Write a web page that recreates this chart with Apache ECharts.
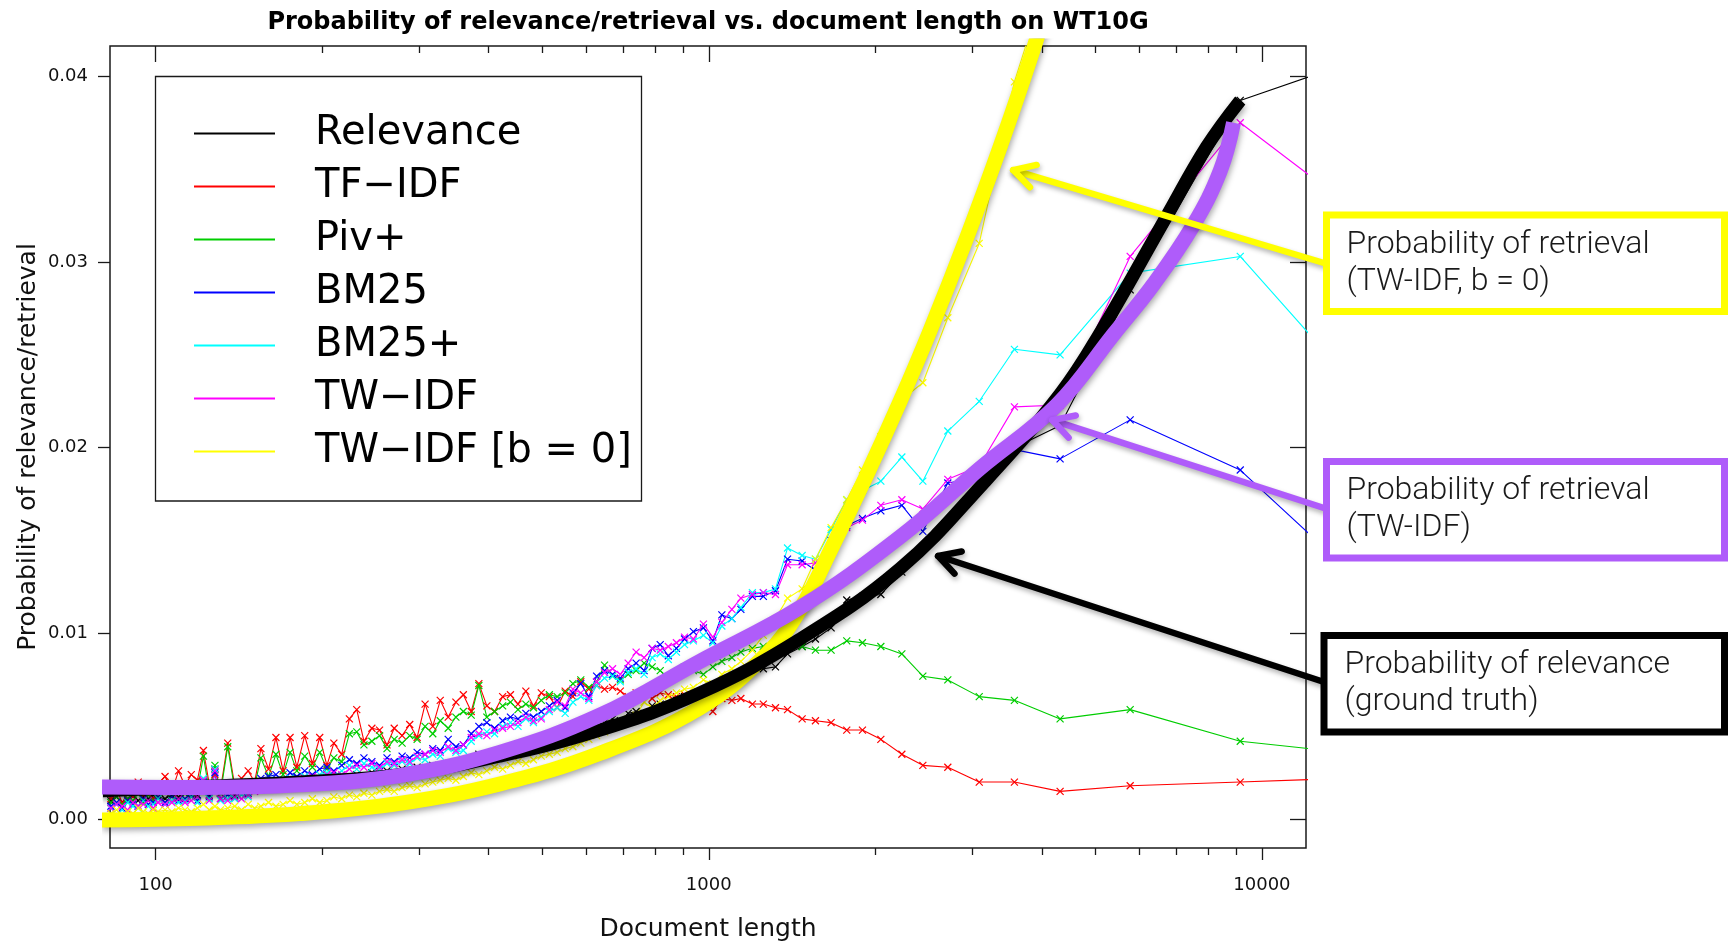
<!DOCTYPE html>
<html>
<head>
<meta charset="utf-8">
<title>Probability of relevance/retrieval vs. document length on WT10G</title>
<script src="https://cdn.jsdelivr.net/npm/echarts@6/dist/echarts.min.js"></script>
<style>
  html, body { margin: 0; padding: 0; background: #fff; }
  #chart { width: 1731px; height: 943px; }
</style>
</head>
<body>
<div id="chart"></div>
<script>
// Document-length bins shared by every retrieval model
const docLength = [
  83, 85, 87, 89, 91, 93, 95, 97, 99, 101,
  104, 107, 110, 113, 116, 119, 122, 125, 128, 131,
  135, 139, 143, 147, 151, 155, 160, 165, 170, 175,
  180, 186, 192, 198, 204, 210, 217, 224, 231, 238,
  246, 254, 262, 270, 279, 288, 297, 307, 317, 327,
  338, 349, 360, 372, 384, 397, 410, 424, 438, 452,
  467, 482, 498, 515, 532, 550, 568, 587, 607, 627,
  648, 670, 692, 715, 739, 764, 790, 817, 845, 874,
  904, 938, 978, 1017, 1056, 1101, 1143, 1199, 1255, 1320,
  1388, 1475, 1559, 1664, 1776, 1896, 2047, 2234, 2438, 2705,
  3083, 3569, 4317, 5779, 9138, 14000
];

// Probability of relevance (ground truth)
const relevance = [
  0.0010, 0.0012, 0.0009, 0.0011, 0.0013, 0.0010, 0.0012, 0.0011, 0.0013, 0.0012,
  0.0011, 0.0013, 0.0012, 0.0014, 0.0012, 0.0013, 0.0018, 0.0013, 0.0027, 0.0014,
  0.0015, 0.0013, 0.0016, 0.0015, 0.0017, 0.0016, 0.0018, 0.0017, 0.0019, 0.0018,
  0.0020, 0.0019, 0.0021, 0.0020, 0.0022, 0.0021, 0.0023, 0.0022, 0.0024, 0.0023,
  0.0025, 0.0024, 0.0026, 0.0025, 0.0027, 0.0026, 0.0028, 0.0027, 0.0029, 0.0028,
  0.0030, 0.0029, 0.0031, 0.0032, 0.0035, 0.0034, 0.0036, 0.0035, 0.0037, 0.0039,
  0.0038, 0.0040, 0.0042, 0.0041, 0.0044, 0.0046, 0.0045, 0.0048, 0.0050, 0.0049,
  0.0052, 0.0054, 0.0053, 0.0057, 0.0058, 0.0057, 0.0061, 0.0062, 0.0061, 0.0064,
  0.0066, 0.0066, 0.0069, 0.0071, 0.0073, 0.0075, 0.0078, 0.0080, 0.0081, 0.0082,
  0.0089, 0.0093, 0.0097, 0.0103, 0.0118, 0.0120, 0.0121, 0.0133, 0.0146, 0.0160,
  0.0182, 0.0200, 0.0212, 0.0285, 0.0387, 0.0406
];

// Probability of retrieval per model
const tfIdf = [
  0.0011, 0.0016, 0.0009, 0.0014, 0.0012, 0.0020, 0.0013, 0.0017, 0.0011, 0.0019,
  0.0023, 0.0015, 0.0026, 0.0018, 0.0024, 0.0021, 0.0037, 0.0019, 0.0024, 0.0016,
  0.0041, 0.0018, 0.0022, 0.0026, 0.0020, 0.0038, 0.0027, 0.0044, 0.0026, 0.0044,
  0.0028, 0.0045, 0.0030, 0.0044, 0.0029, 0.0041, 0.0035, 0.0054, 0.0059, 0.0042,
  0.0049, 0.0048, 0.0040, 0.0049, 0.0045, 0.0051, 0.0044, 0.0062, 0.0050, 0.0064,
  0.0055, 0.0063, 0.0067, 0.0058, 0.0073, 0.0061, 0.0058, 0.0066, 0.0067, 0.0062,
  0.0069, 0.0061, 0.0068, 0.0066, 0.0060, 0.0069, 0.0066, 0.0074, 0.0070, 0.0072,
  0.0070, 0.0071, 0.0069, 0.0066, 0.0068, 0.0067, 0.0065, 0.0068, 0.0067, 0.0066,
  0.0067, 0.0065, 0.0062, 0.0058, 0.0065, 0.0064, 0.0065, 0.0062, 0.0062, 0.0060,
  0.0059, 0.0054, 0.0053, 0.0052, 0.0048, 0.0048, 0.0043, 0.0035, 0.0029, 0.0028,
  0.0020, 0.0020, 0.0015, 0.0018, 0.0020, 0.0022
];
const pivPlus = [
  0.0009, 0.0012, 0.0008, 0.0011, 0.0010, 0.0014, 0.0009, 0.0013, 0.0010, 0.0015,
  0.0016, 0.0012, 0.0018, 0.0014, 0.0017, 0.0016, 0.0034, 0.0015, 0.0029, 0.0014,
  0.0039, 0.0016, 0.0018, 0.0020, 0.0018, 0.0033, 0.0023, 0.0035, 0.0024, 0.0036,
  0.0026, 0.0034, 0.0028, 0.0036, 0.0027, 0.0033, 0.0031, 0.0046, 0.0047, 0.0040,
  0.0042, 0.0045, 0.0038, 0.0043, 0.0041, 0.0045, 0.0043, 0.0050, 0.0046, 0.0053,
  0.0049, 0.0055, 0.0058, 0.0056, 0.0072, 0.0055, 0.0058, 0.0061, 0.0063, 0.0059,
  0.0062, 0.0060, 0.0064, 0.0067, 0.0066, 0.0068, 0.0073, 0.0075, 0.0071, 0.0074,
  0.0083, 0.0077, 0.0075, 0.0078, 0.0080, 0.0084, 0.0082, 0.0080, 0.0076, 0.0079,
  0.0082, 0.0080, 0.0078, 0.0082, 0.0085, 0.0087, 0.0090, 0.0092, 0.0093, 0.0094,
  0.0096, 0.0093, 0.0091, 0.0091, 0.0096, 0.0095, 0.0093, 0.0089, 0.0077, 0.0075,
  0.0066, 0.0064, 0.0054, 0.0059, 0.0042, 0.0036
];
const bm25 = [
  0.0007, 0.0009, 0.0006, 0.0010, 0.0008, 0.0007, 0.0011, 0.0008, 0.0009, 0.0012,
  0.0009, 0.0012, 0.0010, 0.0011, 0.0013, 0.0010, 0.0020, 0.0012, 0.0025, 0.0011,
  0.0013, 0.0012, 0.0015, 0.0014, 0.0018, 0.0022, 0.0023, 0.0024, 0.0021, 0.0025,
  0.0023, 0.0026, 0.0024, 0.0027, 0.0028, 0.0026, 0.0029, 0.0032, 0.0030, 0.0033,
  0.0031, 0.0029, 0.0033, 0.0031, 0.0034, 0.0033, 0.0036, 0.0035, 0.0038, 0.0037,
  0.0043, 0.0039, 0.0040, 0.0046, 0.0050, 0.0052, 0.0049, 0.0053, 0.0055, 0.0054,
  0.0057, 0.0055, 0.0058, 0.0061, 0.0064, 0.0060, 0.0068, 0.0073, 0.0066, 0.0077,
  0.0080, 0.0078, 0.0076, 0.0081, 0.0084, 0.0080, 0.0092, 0.0094, 0.0088, 0.0092,
  0.0097, 0.0101, 0.0103, 0.0096, 0.0110, 0.0108, 0.0113, 0.0120, 0.0120, 0.0123,
  0.0140, 0.0139, 0.0134, 0.0150, 0.0158, 0.0162, 0.0166, 0.0169, 0.0155, 0.0181,
  0.0184, 0.0199, 0.0194, 0.0215, 0.0188, 0.0137
];
const bm25Plus = [
  0.0006, 0.0008, 0.0005, 0.0009, 0.0007, 0.0006, 0.0010, 0.0007, 0.0008, 0.0011,
  0.0008, 0.0010, 0.0009, 0.0010, 0.0012, 0.0009, 0.0022, 0.0011, 0.0027, 0.0010,
  0.0011, 0.0011, 0.0013, 0.0012, 0.0016, 0.0019, 0.0020, 0.0021, 0.0019, 0.0022,
  0.0021, 0.0023, 0.0022, 0.0024, 0.0025, 0.0023, 0.0026, 0.0029, 0.0027, 0.0030,
  0.0028, 0.0027, 0.0030, 0.0029, 0.0031, 0.0030, 0.0033, 0.0032, 0.0035, 0.0034,
  0.0038, 0.0036, 0.0037, 0.0042, 0.0045, 0.0047, 0.0046, 0.0050, 0.0052, 0.0050,
  0.0054, 0.0052, 0.0055, 0.0058, 0.0060, 0.0057, 0.0063, 0.0066, 0.0064, 0.0072,
  0.0076, 0.0077, 0.0074, 0.0079, 0.0081, 0.0078, 0.0087, 0.0089, 0.0086, 0.0090,
  0.0094, 0.0096, 0.0099, 0.0095, 0.0104, 0.0108, 0.0114, 0.0122, 0.0122, 0.0124,
  0.0146, 0.0142, 0.0140, 0.0156, 0.0172, 0.0177, 0.0182, 0.0195, 0.0182, 0.0209,
  0.0225, 0.0253, 0.0250, 0.0294, 0.0303, 0.0241
];
const twIdf = [
  0.0006, 0.0008, 0.0007, 0.0005, 0.0009, 0.0007, 0.0008, 0.0010, 0.0006, 0.0009,
  0.0008, 0.0009, 0.0011, 0.0009, 0.0010, 0.0012, 0.0021, 0.0010, 0.0026, 0.0011,
  0.0010, 0.0012, 0.0011, 0.0013, 0.0015, 0.0018, 0.0017, 0.0020, 0.0019, 0.0021,
  0.0020, 0.0022, 0.0023, 0.0022, 0.0024, 0.0025, 0.0024, 0.0027, 0.0029, 0.0028,
  0.0030, 0.0028, 0.0031, 0.0030, 0.0032, 0.0031, 0.0034, 0.0035, 0.0037, 0.0036,
  0.0039, 0.0037, 0.0040, 0.0044, 0.0046, 0.0045, 0.0048, 0.0049, 0.0050, 0.0052,
  0.0055, 0.0053, 0.0054, 0.0059, 0.0063, 0.0061, 0.0070, 0.0068, 0.0065, 0.0074,
  0.0079, 0.0081, 0.0078, 0.0084, 0.0090, 0.0087, 0.0092, 0.0091, 0.0093, 0.0095,
  0.0098, 0.0097, 0.0105, 0.0098, 0.0106, 0.0113, 0.0119, 0.0121, 0.0122, 0.0121,
  0.0137, 0.0137, 0.0138, 0.0148, 0.0157, 0.0161, 0.0169, 0.0172, 0.0167, 0.0183,
  0.0190, 0.0222, 0.0223, 0.0303, 0.0375, 0.0333
];
const twIdfB0 = [
  0.0003, 0.0005, 0.0002, 0.0004, 0.0003, 0.0006, 0.0004, 0.0003, 0.0005, 0.0004,
  0.0005, 0.0004, 0.0006, 0.0005, 0.0004, 0.0006, 0.0008, 0.0005, 0.0007, 0.0005,
  0.0006, 0.0007, 0.0005, 0.0008, 0.0006, 0.0007, 0.0009, 0.0007, 0.0008, 0.0010,
  0.0008, 0.0009, 0.0011, 0.0009, 0.0010, 0.0012, 0.0011, 0.0013, 0.0012, 0.0014,
  0.0013, 0.0015, 0.0016, 0.0015, 0.0017, 0.0018, 0.0017, 0.0019, 0.0020, 0.0021,
  0.0022, 0.0021, 0.0023, 0.0025, 0.0024, 0.0026, 0.0028, 0.0027, 0.0029, 0.0031,
  0.0030, 0.0032, 0.0034, 0.0035, 0.0036, 0.0038, 0.0039, 0.0041, 0.0043, 0.0045,
  0.0047, 0.0049, 0.0051, 0.0054, 0.0056, 0.0063, 0.0060, 0.0064, 0.0066, 0.0068,
  0.0070, 0.0071, 0.0075, 0.0073, 0.0078, 0.0081, 0.0085, 0.0091, 0.0099, 0.0108,
  0.0119, 0.0124, 0.0140, 0.0157, 0.0172, 0.0188, 0.0206, 0.0226, 0.0235, 0.0270,
  0.0310, 0.0397, 0.0475, null, null, null
];

// Smoothed trend curves drawn as thick bands
const fitRelevanceX = [80, 120, 182, 276, 419, 636, 964, 1463, 2218, 3140, 4317, 5125, 6708, 7941, 9138];
const fitRelevanceY = [0.00153, 0.00175, 0.0020, 0.0024, 0.0034, 0.0048, 0.0068, 0.0097, 0.0135, 0.0181, 0.0229, 0.0263, 0.0324, 0.0362, 0.0387];
const fitTwIdfX = [80, 120, 182, 276, 419, 636, 964, 1463, 2218, 3095, 4259, 5390, 6368, 7521, 8406, 8886];
const fitTwIdfY = [0.00173, 0.00171, 0.00185, 0.00235, 0.0036, 0.0056, 0.0085, 0.0114, 0.0152, 0.0189, 0.0223, 0.0261, 0.0288, 0.0320, 0.0349, 0.0375];
const fitTwIdfB0X = [80, 120, 182, 276, 419, 636, 964, 1273, 1463, 1674, 1928, 2218, 2512, 2926, 3364, 3857, 4100];
const fitTwIdfB0Y = [-0.00004, 0.00005, 0.0003, 0.00085, 0.0019, 0.00355, 0.0060, 0.0089, 0.0113, 0.0147, 0.0185, 0.0225, 0.0263, 0.0313, 0.0362, 0.0414, 0.0440];

// Axis ticks
const xMajorTicks = [100, 1000, 10000];
const xMinorTicks = [200, 300, 400, 500, 600, 700, 800, 900, 2000, 3000, 4000, 5000, 6000, 7000, 8000, 9000];
const yTicks = [0, 0.01, 0.02, 0.03, 0.04];

// Callout text and the curve point each arrow points at
const calloutTexts = [
  'Probability of retrieval\n(TW-IDF, b = 0)',
  'Probability of retrieval\n(TW-IDF)',
  'Probability of relevance\n(ground truth)'
];
const calloutTargets = [[3551, 0.03495], [4177, 0.02149], [2598, 0.01417]];

const X_MIN = 82.7, X_MAX = 12015;
const Y_MIN = -0.00155, Y_MAX = 0.04163;

const CROSS = 'path://M0,0L10,10M10,0L0,10';

function pairs(xs, ys) { return xs.map((x, i) => [x, ys[i]]); }

function thinSeries(name, values, color) {
  return {
    name: name,
    type: 'line',
    xAxisIndex: 0, yAxisIndex: 0,
    data: docLength.map((x, i) => [x, values[i]]),
    symbol: CROSS,
    symbolSize: 7,
    showAllSymbol: true,
    connectNulls: false,
    lineStyle: { color: color, width: 1.1 },
    itemStyle: { color: color, borderColor: color, borderWidth: 1.2 },
    emphasis: { disabled: true },
    clip: true,
    z: 2
  };
}

function fitSeries(name, xs, ys, color, width, z) {
  return {
    name: name,
    type: 'line',
    xAxisIndex: 0, yAxisIndex: 0,
    data: pairs(xs, ys),
    showSymbol: false,
    smooth: 0.4,
    lineStyle: {
      color: color, width: width, cap: 'butt', join: 'round',
      shadowColor: 'rgba(0,0,0,0.35)', shadowBlur: 6, shadowOffsetX: 1, shadowOffsetY: 3
    },
    emphasis: { disabled: true },
    clip: true,
    z: z
  };
}

const tickFont = { fontFamily: 'DejaVu Sans', fontSize: 18, color: '#111' };
const nameFont = { fontFamily: 'DejaVu Sans', fontSize: 25, color: '#111' };
const tickLine = { color: '#1a1a1a', width: 1.3 };

function logAxis(extra) {
  return Object.assign({
    type: 'log', logBase: 10, min: X_MIN, max: X_MAX,
    axisLine: { show: false, onZero: false },
    splitLine: { show: false },
    minorTick: { show: false },
    axisLabel: { show: false },
    axisTick: { show: false }
  }, extra);
}

function valueAxis(extra) {
  return Object.assign({
    type: 'value', min: Y_MIN, max: Y_MAX,
    axisLine: { show: false, onZero: false },
    splitLine: { show: false },
    axisLabel: { show: false },
    axisTick: { show: false }
  }, extra);
}

const plotRect = { left: 110, top: 46, width: 1196, height: 802, outerBoundsMode: 'none' };

const chart = echarts.init(document.getElementById('chart'), null, { renderer: 'canvas' });

const option = {
  animation: false,
  backgroundColor: '#fff',
  title: {
    text: 'Probability of relevance/retrieval vs. document length on WT10G',
    left: 708, top: 11, textAlign: 'center', padding: 0,
    textStyle: { fontFamily: 'DejaVu Sans', fontWeight: 'bold', fontSize: 24, color: '#000' }
  },
  grid: [
    Object.assign({ show: true, borderColor: '#1a1a1a', borderWidth: 1.5, backgroundColor: 'transparent' }, plotRect),
    Object.assign({ show: false }, plotRect)
  ],
  legend: {
    orient: 'vertical', left: 194, top: 107, padding: 0,
    itemWidth: 81, itemHeight: 2, itemGap: 0, icon: 'rect',
    selectedMode: false,
    itemStyle: { borderWidth: 0 },
    textStyle: { fontFamily: 'DejaVu Sans', fontSize: 40, color: '#000', lineHeight: 53, padding: [0, 0, 0, 35] },
    data: ['Relevance', 'TF\u2212IDF', 'Piv+', 'BM25', 'BM25+', 'TW\u2212IDF', 'TW\u2212IDF [b = 0]']
  },
  xAxis: [
    // main axis: major ticks and title
    logAxis({
      gridIndex: 0, position: 'bottom',
      axisTick: { show: true, inside: false, length: 12, customValues: xMajorTicks, lineStyle: tickLine },
      name: 'Document length', nameLocation: 'middle', nameGap: 69, nameMoveOverlap: false, nameTextStyle: nameFont
    }),
    // top edge: inward major ticks
    logAxis({
      gridIndex: 0, position: 'top',
      axisTick: { show: true, inside: true, length: 16, customValues: xMajorTicks, lineStyle: tickLine }
    }),
    // minor ticks below and inside the top edge
    logAxis({
      gridIndex: 1, position: 'bottom',
      axisTick: { show: true, inside: false, length: 7, customValues: xMinorTicks, lineStyle: tickLine }
    }),
    logAxis({
      gridIndex: 1, position: 'top',
      axisTick: { show: true, inside: true, length: 7, customValues: xMinorTicks, lineStyle: tickLine }
    })
  ],
  yAxis: [
    valueAxis({
      gridIndex: 0, position: 'left',
      axisTick: { show: true, inside: false, length: 12, customValues: yTicks, lineStyle: tickLine },
      axisLabel: { show: true, customValues: yTicks, margin: 22, formatter: v => v.toFixed(2), ...tickFont },
      name: 'Probability of relevance/retrieval', nameLocation: 'middle', nameGap: 69, nameMoveOverlap: false, nameTextStyle: nameFont
    }),
    valueAxis({
      gridIndex: 0, position: 'right',
      axisTick: { show: true, inside: true, length: 16, customValues: yTicks, lineStyle: tickLine }
    }),
    valueAxis({ gridIndex: 1, position: 'left' })
  ],
  series: [
    thinSeries('Relevance', relevance, '#000000'),
    thinSeries('TF\u2212IDF', tfIdf, '#FF0000'),
    thinSeries('Piv+', pivPlus, '#00CD00'),
    thinSeries('BM25', bm25, '#0000FF'),
    thinSeries('BM25+', bm25Plus, '#00FFFF'),
    thinSeries('TW\u2212IDF', twIdf, '#FF00FF'),
    thinSeries('TW\u2212IDF [b = 0]', twIdfB0, '#FFFF00'),
    fitSeries('TW-IDF, b = 0 trend', fitTwIdfB0X, fitTwIdfB0Y, '#FFFF00', 15, 5),
    fitSeries('Relevance trend', fitRelevanceX, fitRelevanceY, '#000000', 13, 6),
    fitSeries('TW-IDF trend', fitTwIdfX, fitTwIdfY, '#AF5CFA', 15, 7)
  ]
};

chart.setOption(option);

// Document-length tick labels, placed under their ticks through the axis scale
const plotBottom = plotRect.top + plotRect.height;
const graphics = xMajorTicks.map(v => ({
  type: 'text', silent: true, z: 40,
  style: {
    text: String(v),
    x: chart.convertToPixel({ xAxisIndex: 0 }, v), y: plotBottom + 37,
    align: 'center', verticalAlign: 'middle',
    font: '18px "DejaVu Sans"', fill: '#111'
  }
}));

// Legend frame
graphics.push({
  type: 'rect', silent: true, z: 50,
  shape: { x: 155.5, y: 76.5, width: 486, height: 424.5 },
  style: { fill: 'none', stroke: '#1a1a1a', lineWidth: 1.3 }
});

// Callout boxes and arrows
const calloutStyles = [
  { color: '#FFFF00', box: { x: 1326.5, y: 215, w: 398, h: 96.5 }, tail: [1324, 263], textX: 1346.5 },
  { color: '#AF5CFA', box: { x: 1326.5, y: 461.5, w: 398, h: 96.5 }, tail: [1324, 508], textX: 1346.5 },
  { color: '#000000', box: { x: 1324, y: 635.5, w: 400.5, h: 96.5 }, tail: [1321, 681], textX: 1344.5 }
];

const shadow = { shadowColor: 'rgba(0,0,0,0.3)', shadowBlur: 5, shadowOffsetX: 1, shadowOffsetY: 3 };

calloutStyles.forEach((c, i) => {
  const tip = chart.convertToPixel({ xAxisIndex: 0, yAxisIndex: 0 }, calloutTargets[i]);
  const dx = c.tail[0] - tip[0], dy = c.tail[1] - tip[1];
  const len = Math.sqrt(dx * dx + dy * dy);
  const ux = dx / len, uy = dy / len;
  const arm = 24, ang = 29 * Math.PI / 180;
  const rot = (a) => [tip[0] + arm * (ux * Math.cos(a) - uy * Math.sin(a)), tip[1] + arm * (ux * Math.sin(a) + uy * Math.cos(a))];
  graphics.push({
    type: 'line', silent: true, z: 60,
    shape: { x1: c.tail[0], y1: c.tail[1], x2: tip[0], y2: tip[1] },
    style: Object.assign({ stroke: c.color, lineWidth: 6.5, lineCap: 'round' }, shadow)
  });
  graphics.push({
    type: 'polyline', silent: true, z: 60,
    shape: { points: [rot(ang), tip, rot(-ang)] },
    style: Object.assign({ stroke: c.color, lineWidth: 6.5, lineCap: 'round', lineJoin: 'round', fill: null }, shadow)
  });
  graphics.push({
    type: 'rect', silent: true, z: 61,
    shape: { x: c.box.x, y: c.box.y, width: c.box.w, height: c.box.h },
    style: { fill: '#fff', stroke: c.color, lineWidth: 7 }
  });
  graphics.push({
    type: 'text', silent: true, z: 62,
    style: {
      text: calloutTexts[i], x: c.textX, y: c.box.y + c.box.h / 2,
      verticalAlign: 'middle', align: 'left',
      font: '300 32px Roboto, "Liberation Sans", sans-serif',
      lineHeight: 37, fill: '#1a1a1a'
    }
  });
});

chart.setOption({ graphic: graphics });
</script>
</body>
</html>
